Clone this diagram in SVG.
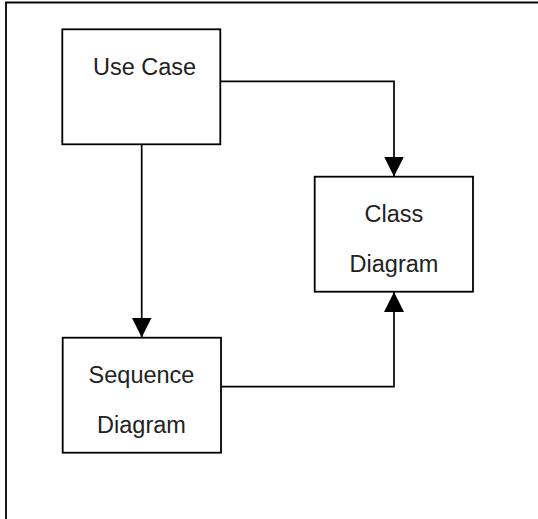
<svg xmlns="http://www.w3.org/2000/svg" width="538" height="519" viewBox="0 0 538 519">
<style>
.box{fill:#fff;stroke:#000;stroke-width:1.8}
.lbl{font-family:"Liberation Sans",Arial,sans-serif;font-size:23.5px;fill:#222;text-anchor:middle}
.conn{fill:none;stroke:#000;stroke-width:1.7}
</style>
<defs>
<marker id="arr" markerUnits="userSpaceOnUse" markerWidth="20" markerHeight="20" viewBox="0 0 20 20" refX="20" refY="10" orient="auto">
<path d="M0,0 L20,10 L0,20 Z" fill="#000"/>
</marker>
</defs>
<g id="frame">
<path d="M6,519 V2.5 H538" fill="none" stroke="#000" stroke-width="1.8"/>
</g>
<g id="connectors">
<path class="conn" d="M220.3,81.3 H394 V176.5" marker-end="url(#arr)"/>
<path class="conn" d="M141.7,144.3 V337.5" marker-end="url(#arr)"/>
<path class="conn" d="M221,386.7 H394 V292" marker-end="url(#arr)"/>
</g>
<g id="use-case">
<rect class="box" x="62.3" y="29.3" width="158" height="115"/>
<text class="lbl" x="144.5" y="75">Use Case</text>
</g>
<g id="class-diagram">
<rect class="box" x="314.7" y="176.7" width="158.3" height="115"/>
<text class="lbl" x="394" y="221.7">Class</text>
<text class="lbl" x="394" y="272">Diagram</text>
</g>
<g id="sequence-diagram">
<rect class="box" x="62.7" y="337.7" width="158.3" height="115"/>
<text class="lbl" x="141.5" y="382.7">Sequence</text>
<text class="lbl" x="141.5" y="433">Diagram</text>
</g>
</svg>
